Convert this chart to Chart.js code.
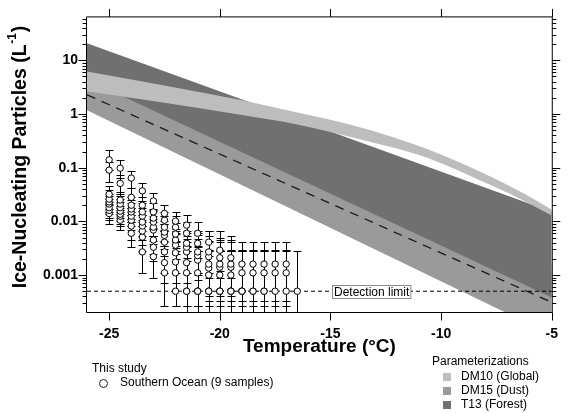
<!DOCTYPE html>
<html><head><meta charset="utf-8">
<script src="https://cdn.jsdelivr.net/npm/chart.js@4.4.0/dist/chart.umd.min.js"></script>
<style>html,body{margin:0;padding:0;background:#fff}#wrap{width:572px;height:413px;position:relative}</style>
</head><body><div id="wrap"><canvas id="c" width="572" height="413"></canvas></div>
<script>
// ---------- data ----------
const temps = [-25,-24.5,-24,-23.5,-23,-22.5,-22,-21.5,-21,-20.5,-20,-19.5,-19,-18.5,-18,-17.5,-17,-16.5];
const xTicks = [-25,-20,-15,-10,-5];
const yTicks = [0.001,0.01,0.1,1,10];
const detectionLimit = 0.0005;

// DM10 (Global) band edges
const dm10T = [-26,-19,-16.5,-14,-10.6,-7.7,-6.2,-5];
const dm10Upper = [6.2,1.8,1.07,0.62,0.22,0.066,0.032,0.0165];
const dm10Lower = [2.64,0.96,0.64,0.365,0.152,0.046,0.0235,0.0128];
// DM15 (Dust) and T13 (Forest) band edges (log-linear)
const bandT = [-26,-5];
const dm15Upper = [5.26,0.00153];
const dm15Lower = [1.17,0.000077];
const dm15Mid = [2.28,0.00031];
const t13Upper = [20.7,0.0151];
const t13Lower = [4.4,0.00038];

// Southern Ocean samples (L^-1) with error bar bounds
const inpValues = [
 [0.14,0.098,0.064,0.037,0.024,0.014,0.0101,0.0085,0.006,0.0041,0.0029,0.0021,0.0016,0.0016,0.0016,0.0016,0.0016,0.0005],
 [0.09,0.051,0.028,0.020,0.015,0.0105,0.0078,0.006,0.0039,0.0027,0.0021,0.0016,0.0011,0.0011,0.0011,0.0011,0.0011,null],
 [0.032,0.025,0.020,0.015,0.0115,0.0078,0.0058,0.0039,0.0027,0.0022,0.0016,0.0014,0.0005,0.0005,0.0005,0.0005,0.0005,null],
 [0.026,0.021,0.017,0.0125,0.0097,0.0063,0.0045,0.0033,0.0023,0.0016,0.0014,0.001,0.0005,0.0005,0.0005,null,null,null],
 [0.023,0.018,0.015,0.0097,0.0078,0.0055,0.0036,0.0027,0.0019,0.00135,0.001,0.0005,0.0005,null,null,null,null,null],
 [0.021,0.0155,0.0125,0.0082,0.0069,0.0041,0.0026,0.0017,0.0011,0.001,0.0005,0.0005,0.0005,null,null,null,null,null],
 [0.018,0.0136,0.0105,0.0066,0.0045,0.0027,0.00175,0.0011,0.0005,0.0005,0.0005,0.0005,null,null,null,null,null,null],
 [0.016,0.0125,0.0082,0.0051,0.0033,0.0017,0.0011,0.0005,0.0005,0.0005,0.0005,0.0005,null,null,null,null,null,null],
 [0.014,0.0105,0.006,0.0027,0.0022,0.0011,0.0005,0.0005,0.0005,0.0005,0.0005,null,null,null,null,null,null,null]
];
const inpLower = [
 [0.091,0.064,0.042,0.024,0.016,0.0091,0.0066,0.0047,0.0033,0.0023,0.0012,0.0009,0.00033,0.00033,0.00033,0.00033,0.00033,0.00015],
 [0.054,0.033,0.018,0.013,0.0098,0.0068,0.0043,0.0033,0.0021,0.0011,0.0009,0.00033,0.00027,0.00027,0.00027,0.00027,0.00027,null],
 [0.021,0.016,0.013,0.0098,0.0075,0.0043,0.0032,0.0021,0.0011,0.0009,0.00033,0.0004,0.00015,0.00015,0.00015,0.00015,0.00015,null],
 [0.017,0.0137,0.011,0.0081,0.0053,0.0035,0.0025,0.0018,0.001,0.00033,0.0004,0.00027,0.00015,0.00015,0.00015,null,null,null],
 [0.015,0.0117,0.0098,0.0053,0.0043,0.003,0.002,0.0011,0.0008,0.0004,0.00027,0.00015,0.00015,null,null,null,null,null],
 [0.0137,0.010,0.0081,0.0045,0.0038,0.0023,0.0011,0.0007,0.00027,0.00027,0.00015,0.00015,0.00015,null,null,null,null,null],
 [0.0117,0.0088,0.0068,0.0036,0.0025,0.0011,0.0007,0.00027,0.00027,0.00015,0.00015,0.00015,null,null,null,null,null,null],
 [0.0104,0.0081,0.0045,0.0028,0.0018,0.0007,0.00027,0.00027,0.00015,0.00015,0.00015,0.00015,null,null,null,null,null,null],
 [0.0091,0.0068,0.0033,0.0011,0.0009,0.00027,0.00027,0.00015,0.00015,0.00015,0.00015,null,null,null,null,null,null,null]
];
const inpUpper = [
 [0.21,0.142,0.085,0.052,0.034,0.020,0.015,0.013,0.0098,0.0066,0.0066,0.0053,0.0041,0.0041,0.0041,0.0041,0.0041,0.0028],
 [0.13,0.074,0.041,0.029,0.022,0.0152,0.0125,0.0096,0.0062,0.0065,0.005,0.0041,0.0029,0.0029,0.0029,0.0029,0.0029,null],
 [0.046,0.036,0.029,0.022,0.0167,0.0125,0.0093,0.0062,0.0065,0.0053,0.0041,0.0045,0.0028,0.0028,0.0028,0.0028,0.0028,null],
 [0.038,0.030,0.025,0.018,0.0155,0.010,0.0072,0.0053,0.0055,0.0041,0.0045,0.0029,0.0028,0.0028,0.0028,null,null,null],
 [0.033,0.026,0.022,0.0155,0.0125,0.0088,0.0058,0.0065,0.0046,0.0043,0.0029,0.0028,0.0028,null,null,null,null,null],
 [0.030,0.0225,0.018,0.013,0.011,0.0066,0.0062,0.0041,0.0035,0.0029,0.0028,0.0028,0.0028,null,null,null,null,null],
 [0.026,0.0197,0.0152,0.0106,0.0072,0.0065,0.0042,0.0035,0.0028,0.0028,0.0028,0.0028,null,null,null,null,null,null],
 [0.023,0.018,0.013,0.0082,0.0053,0.0041,0.0035,0.0028,0.0028,0.0028,0.0028,0.0028,null,null,null,null,null,null],
 [0.020,0.0152,0.0096,0.0065,0.0053,0.0035,0.0028,0.0028,0.0028,0.0028,0.0028,null,null,null,null,null,null,null]
];

const legendLeftTitle = 'This study';
const legendLeftItem = 'Southern Ocean (9 samples)';
const legendRightTitle = 'Parameterizations';
const paramNames = ['DM10 (Global)','DM15 (Dust)','T13 (Forest)'];

// ---------- styles ----------
const FONT = 'Arial, "Liberation Sans", Helvetica, sans-serif';
const C_LIGHT = '#bdbdbd', C_MED = '#9a9a9a', C_DARK = '#707070';
const paramColors = [C_LIGHT, C_MED, C_DARK];

const pts = (xs, ys) => xs.map((x, i) => ({x, y: ys[i]}));
const edge = (data, order, extra) => Object.assign({
  data, order, borderWidth: 0, pointRadius: 0, fill: false, showLine: true,
  borderColor: 'rgba(0,0,0,0)'
}, extra || {});

const datasets = [
  edge(pts(bandT, dm15Upper), 10),
  edge(pts(bandT, dm15Lower), 10, {fill: '-1', backgroundColor: C_MED}),
  edge(pts(bandT, t13Upper), 9),
  edge(pts(bandT, t13Lower), 9, {fill: '-1', backgroundColor: C_DARK}),
  edge(pts(dm10T, dm10Upper), 8, {cubicInterpolationMode: 'monotone'}),
  edge(pts(dm10T, dm10Lower), 8, {fill: '-1', backgroundColor: C_LIGHT, cubicInterpolationMode: 'monotone'}),
  {data: pts(bandT, dm15Mid), order: 5, showLine: true, borderColor: '#1a1a1a', borderWidth: 1.3,
   borderDash: [9, 7], pointRadius: 0, fill: false},
  {data: pts(bandT, [detectionLimit, detectionLimit]), order: 4, showLine: true, borderColor: '#000',
   borderWidth: 1, borderDash: [4, 3], pointRadius: 0, fill: false}
];
inpValues.forEach(vals => {
  datasets.push({
    data: temps.map((t, i) => vals[i] == null ? null : {x: t, y: vals[i]}).filter(p => p),
    order: 1, showLine: false, pointRadius: 3.2, pointBackgroundColor: '#fff',
    pointBorderColor: '#000', pointBorderWidth: 1, fill: false
  });
});
const lastSample = datasets.length - 1;

const decor = {
  id: 'decor',
  beforeDatasetDraw(chart, args) {
    if (args.index !== lastSample) return;
    const {ctx, chartArea: a, scales: {x, y}} = chart;
    ctx.save();
    ctx.beginPath(); ctx.rect(a.left, a.top, a.right - a.left, a.bottom - a.top); ctx.clip();
    ctx.strokeStyle = '#000'; ctx.lineWidth = 1;
    inpValues.forEach((vals, s) => vals.forEach((v, i) => {
      if (v == null) return;
      const px = Math.round(x.getPixelForValue(temps[i])) + 0.5;
      const yHi = Math.round(y.getPixelForValue(inpUpper[s][i])) + 0.5;
      const yLo = Math.round(y.getPixelForValue(inpLower[s][i])) + 0.5;
      ctx.beginPath();
      ctx.moveTo(px, yHi); ctx.lineTo(px, Math.min(yLo, a.bottom));
      ctx.moveTo(px - 4, yHi); ctx.lineTo(px + 4, yHi);
      if (yLo < a.bottom) { ctx.moveTo(px - 4, yLo); ctx.lineTo(px + 4, yLo); }
      ctx.stroke();
    }));
    ctx.restore();
  },
  afterDatasetsDraw(chart) {
    const {ctx, scales: {x, y}} = chart;
    ctx.save();
    ctx.font = '12px ' + FONT;
    const txt = 'Detection limit';
    const w = ctx.measureText(txt).width;
    const lx = Math.round(x.getPixelForValue(-14.95)) + 0.5;
    const ly = y.getPixelForValue(detectionLimit);
    ctx.fillStyle = '#fff'; ctx.strokeStyle = '#8a8a8a'; ctx.lineWidth = 1;
    ctx.fillRect(lx, Math.round(ly - 6) + 0.5, w + 3, 13);
    ctx.strokeRect(lx, Math.round(ly - 6) + 0.5, w + 3, 13);
    ctx.fillStyle = '#000'; ctx.textBaseline = 'middle';
    ctx.fillText(txt, lx + 1.5, ly + 1);
    ctx.restore();
  },
  afterDraw(chart) {
    const {ctx, chartArea: a, scales: {x, y}} = chart;
    ctx.save();
    ctx.strokeStyle = '#000'; ctx.lineWidth = 1;
    ctx.beginPath();
    const L = a.left - 0.5, R = a.right + 0.5, T = a.top - 0.5, B = a.bottom + 0.5;
    ctx.moveTo(L, T); ctx.lineTo(R, T); ctx.lineTo(R, B); ctx.lineTo(L, B); ctx.closePath();
    xTicks.forEach(t => {
      const px = Math.round(x.getPixelForValue(t)) + 0.5;
      ctx.moveTo(px, T); ctx.lineTo(px, T - 8);
      ctx.moveTo(px, B); ctx.lineTo(px, B + 8);
    });
    for (let e = -4; e <= 2; e++) {
      for (let m = 1; m <= 9; m++) {
        const v = m * Math.pow(10, e);
        if (v < y.min * 0.999 || v > y.max * 1.001) continue;
        const py = Math.round(y.getPixelForValue(v)) + 0.5;
        const len = m === 1 ? 8 : 4;
        ctx.moveTo(L, py); ctx.lineTo(L - len, py);
        ctx.moveTo(R, py); ctx.lineTo(R + len, py);
      }
    }
    ctx.stroke();

    // y-axis title with superscript
    ctx.fillStyle = '#000';
    const main = 'Ice-Nucleating Particles (L', sup = '-1', close = ')';
    const fMain = 'bold 19.5px ' + FONT, fSup = 'bold 12px ' + FONT;
    ctx.font = fMain; const w1 = ctx.measureText(main).width, w3 = ctx.measureText(close).width;
    ctx.font = fSup; const w2 = ctx.measureText(sup).width + 1.5;
    const total = w1 + w2 + w3;
    ctx.translate(21, 157); ctx.rotate(-Math.PI / 2);
    ctx.textBaseline = 'middle'; ctx.textAlign = 'left';
    let cx = -total / 2;
    ctx.font = fMain; ctx.fillText(main, cx, 0); cx += w1;
    ctx.font = fSup; ctx.fillText(sup, cx + 0.75, -8); cx += w2;
    ctx.font = fMain; ctx.fillText(close, cx, 0);
    ctx.setTransform(1, 0, 0, 1, 0, 0);

    // legends
    ctx.font = '12px ' + FONT; ctx.textBaseline = 'middle'; ctx.textAlign = 'left';
    ctx.fillStyle = '#000';
    ctx.fillText(legendLeftTitle, 92, 369);
    ctx.beginPath(); ctx.arc(103.5, 383.5, 4, 0, Math.PI * 2);
    ctx.fillStyle = '#fff'; ctx.fill(); ctx.strokeStyle = '#222'; ctx.stroke();
    ctx.fillStyle = '#000'; ctx.fillText(legendLeftItem, 120, 383);
    ctx.fillText(legendRightTitle, 432, 362);
    paramNames.forEach((n, i) => {
      const yy = 377 + i * 14;
      ctx.fillStyle = paramColors[i]; ctx.fillRect(443, yy - 4, 8, 8);
      ctx.fillStyle = '#000'; ctx.fillText(n, 461, yy);
    });
    ctx.restore();
  }
};

new Chart(document.getElementById('c'), {
  type: 'line',
  data: {datasets},
  options: {
    responsive: false, animation: false, devicePixelRatio: 1, events: [],
    layout: {padding: {top: 17, right: 11, left: 0, bottom: 0}},
    plugins: {legend: {display: false}, tooltip: {enabled: false}, filler: {propagate: false}},
    scales: {
      x: {
        type: 'linear', min: -26, max: -5,
        afterBuildTicks: ax => { ax.ticks = xTicks.map(v => ({value: v})); },
        afterFit: s => { s.height = 101; },
        grid: {display: false, drawTicks: false}, border: {display: false},
        ticks: {padding: 14, color: '#000', font: {family: FONT, size: 14, weight: 'bold'},
                callback: v => String(v), maxRotation: 0},
        title: {display: true, text: 'Temperature (°C)', color: '#000',
                font: {family: FONT, size: 19, weight: 'bold'}, padding: {top: 0, bottom: 55}}
      },
      y: {
        type: 'logarithmic', min: 0.000205, max: 63,
        afterBuildTicks: ax => { ax.ticks = yTicks.map(v => ({value: v, major: true})); },
        afterFit: s => { s.width = 87; },
        grid: {display: false, drawTicks: false}, border: {display: false},
        ticks: {padding: 9, color: '#000', font: {family: FONT, size: 14, weight: 'bold'},
                callback: v => String(v)}
      }
    }
  },
  plugins: [decor]
});
</script>
</body></html>
